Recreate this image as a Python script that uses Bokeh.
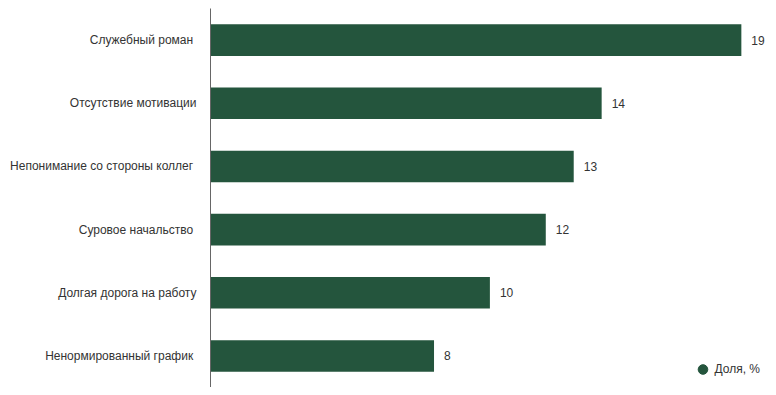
import numpy as np
from bokeh.plotting import figure
from bokeh.models import ColumnDataSource, Range1d, Legend, LegendItem
from bokeh.core.properties import value
from bokeh.embed import file_html
from bokeh.resources import INLINE

categories = ["Служебный роман ", "Отсутствие мотивации", "Непонимание со стороны коллег ",
              "Суровое начальство ", "Долгая дорога на работу", "Ненормированный график "]
shares = [19, 14, 13, 12, 10, 8]
series_name = "Доля, %"

cats_rev = categories[::-1]
src = ColumnDataSource(dict(cat=categories, val=shares, lab=[str(v) for v in shares]))

p = figure(width=766, height=387, y_range=cats_rev, x_range=Range1d(0, 19.9),
           output_backend="svg", toolbar_location=None,
           min_border_left=210, min_border_right=0, min_border_top=8, min_border_bottom=0)
p.outline_line_color = None
p.grid.visible = False
p.xaxis.visible = False
p.background_fill_color = "white"
p.border_fill_color = "white"

color = "#24553d"
r = p.hbar(y="cat", right="val", left=0, height=0.5, source=src, color=color, line_color=None)
p.text(x="val", y="cat", text="lab", source=src, x_offset=10, text_baseline="middle",
       text_align="left", text_font_size="12px", text_color="#333333",
       text_font=value("Liberation Sans"))

yax = p.yaxis[0]
yax.major_tick_line_color = None
yax.minor_tick_line_color = None
yax.axis_line_color = "#666666"
yax.major_label_text_font = "Liberation Sans"
yax.major_label_text_font_size = "12px"
yax.major_label_text_color = "#333333"
yax.major_label_standoff = 8

# legend proxy (not drawn: NaN position)
proxy_src = ColumnDataSource(dict(x=np.array([np.nan]), y=[categories[0]]))
marker = p.scatter(x="x", y="y", source=proxy_src, size=10, marker="circle", color=color)
legend = Legend(items=[LegendItem(label=series_name, renderers=[marker])], location="bottom_right",
                border_line_color=None, background_fill_alpha=0, label_text_font="Liberation Sans",
                label_text_font_size="12px", label_text_color="#333333", glyph_width=24,
                glyph_height=24, margin=6, padding=0, spacing=0, label_standoff=0)
p.add_layout(legend)

open("out.html", "w").write(file_html(p, INLINE))
